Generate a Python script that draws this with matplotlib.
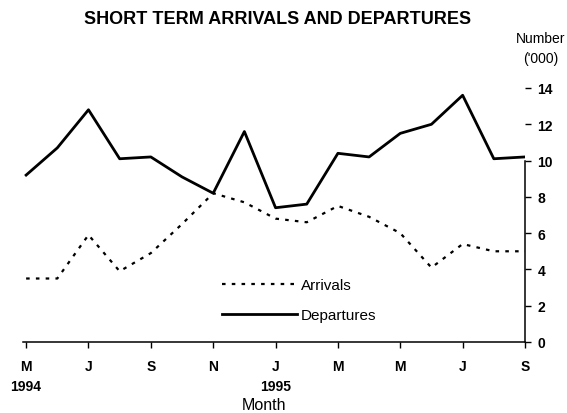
import numpy as np
import matplotlib
matplotlib.use('Agg')
import matplotlib.pyplot as plt

plt.rcParams['font.family'] = 'Liberation Sans'

# monthly values, May 1994 .. Sep 1995 ('000)
months = ['May 94', 'Jun 94', 'Jul 94', 'Aug 94', 'Sep 94', 'Oct 94', 'Nov 94', 'Dec 94',
          'Jan 95', 'Feb 95', 'Mar 95', 'Apr 95', 'May 95', 'Jun 95', 'Jul 95', 'Aug 95', 'Sep 95']
arrivals = [3.5, 3.5, 5.9, 3.9, 4.9, 6.5, 8.2, 7.7, 6.8, 6.6, 7.5, 6.9, 6.0, 4.1, 5.4, 5.0, 5.0]
departures = [9.2, 10.7, 12.8, 10.1, 10.2, 9.1, 8.2, 11.6, 7.4, 7.6, 10.4, 10.2, 11.5, 12.0, 13.6, 10.1, 10.2]
tick_labels = ['M\n1994', 'J', 'S', 'N', 'J\n1995', 'M', 'M', 'J', 'S']

x = np.arange(len(months))

fig = plt.figure(figsize=(5.67, 4.14), dpi=100)
ax = fig.add_axes([23/567, 71/414, 502/567, 254/414])

ax.plot(x, arrivals, color='black', lw=1.6, dashes=(1.6, 2.8), label='Arrivals')
ax.plot(x, departures, color='black', lw=2.0, label='Departures')

ax.set_xlim(-0.1, 16)
ax.set_ylim(0, 14)

ax.spines['top'].set_visible(False)
ax.spines['left'].set_visible(False)
ax.spines['right'].set_bounds(0, 10)
ax.spines['right'].set_linewidth(1.1)
ax.spines['bottom'].set_linewidth(1.1)
# faint upper part of the scale line
ax.axvline(x[-1], ymin=10/14, ymax=1, color='0.45', lw=0.7, ls=':')

ax.yaxis.tick_right()
ax.set_yticks(range(0, 15, 2))
ax.tick_params(axis='y', direction='out', length=4, width=1, pad=5, labelsize=10)
ax.set_xticks(x[::2])
ax.set_xticklabels(tick_labels)
ax.tick_params(axis='x', direction='out', length=4, width=1, pad=8, labelsize=10)
for t in ax.get_xticklabels() + ax.get_yticklabels():
    t.set_fontweight('bold')
for t in ax.get_xticklabels():
    t.set_linespacing(1.55)

ax.set_xlabel('Month', fontsize=11.5)
ax.xaxis.set_label_coords(0.48, -0.215)

ax.legend(loc='upper left', bbox_to_anchor=(0.396, 0.252), frameon=False, fontsize=11,
          handlelength=4.9, handletextpad=0.3, labelspacing=1.04, borderpad=0, borderaxespad=0)

fig.text(278/567, 1 - 19/414, 'SHORT TERM ARRIVALS AND DEPARTURES', ha='center', va='center',
         fontsize=13, fontweight='bold')
fig.text(541/567, 1 - 32/414, "Number\n('000)", ha='center', va='top', fontsize=10, linespacing=1.5)

fig.savefig('out.png', dpi=100)
